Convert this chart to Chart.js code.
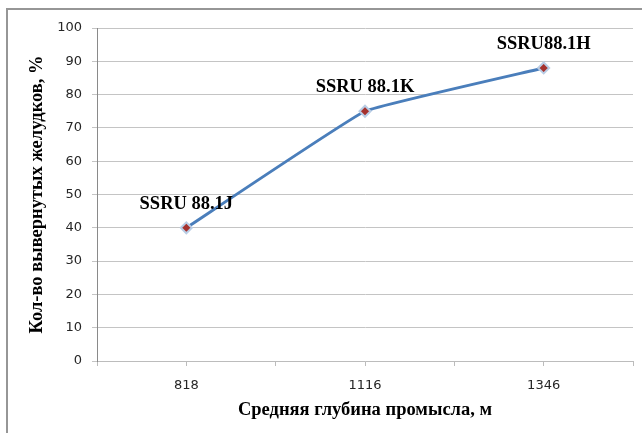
<!DOCTYPE html>
<html>
<head>
<meta charset="utf-8">
<script src="https://cdn.jsdelivr.net/npm/chart.js@4/dist/chart.umd.min.js"></script>
<style>
  html, body { margin: 0; padding: 0; background: #ffffff; }
  #wrap { position: relative; width: 642px; height: 433px; overflow: hidden; }
  #frame { position: absolute; left: 6px; top: 8px; width: 700px; height: 500px; border: 2px solid #969696; box-sizing: border-box; }
  #c { position: absolute; left: 0; top: 0; }
</style>
</head>
<body>
<div id="wrap">
  <div id="frame"></div>
  <canvas id="c" width="642" height="433"></canvas>
</div>
<script>
const categories = ['818', '1116', '1346'];
const values = [40, 75, 88];
const pointLabels = ['SSRU 88.1J', 'SSRU 88.1K', 'SSRU88.1H'];
const yTicks = [0, 10, 20, 30, 40, 50, 60, 70, 80, 90, 100];
const xTitle = 'Средняя глубина промысла, м';
const yTitle = 'Кол-во вывернутых желудков, %';

const labelPlugin = {
  id: 'pointLabels',
  afterDatasetsDraw(chart) {
    const ctx = chart.ctx;
    const meta = chart.getDatasetMeta(0);
    ctx.save();
    ctx.font = 'bold 18.5px "Liberation Serif", "Times New Roman", serif';
    ctx.fillStyle = '#000000';
    ctx.textAlign = 'center';
    ctx.textBaseline = 'middle';
    meta.data.forEach((pt, i) => {
      ctx.fillText(pointLabels[i], pt.x, pt.y - 24);
    });
    ctx.restore();
  }
};

new Chart(document.getElementById('c'), {
  type: 'line',
  data: {
    datasets: [{
      data: values.map((v, i) => ({ x: i, y: v })),
      borderColor: '#4a7ebb',
      borderWidth: 3,
      tension: 0.08,
      pointStyle: 'rectRot',
      pointRadius: 5.5,
      pointBackgroundColor: '#a5322e',
      pointBorderColor: '#b9cde5',
      pointBorderWidth: 2
    }]
  },
  options: {
    responsive: false,
    animation: false,
    layout: { padding: { left: 0, top: 28, right: 9, bottom: 0 } },
    plugins: { legend: { display: false }, tooltip: { enabled: false } },
    scales: {
      x: {
        type: 'linear',
        min: -0.5,
        max: 2.5,
        afterBuildTicks(scale) {
          scale.ticks = [-0.5, 0, 0.5, 1, 1.5, 2, 2.5].map(v => ({ value: v }));
        },
        afterFit(scale) { scale.height = 72; scale.paddingLeft = 0; scale.paddingRight = 0; },
        ticks: {
          autoSkip: false,
          maxRotation: 0,
          padding: 12,
          color: '#262626',
          font: { family: '"DejaVu Sans", Verdana, sans-serif', size: 13 },
          callback: (v) => Number.isInteger(v) ? categories[v] : ''
        },
        grid: { drawOnChartArea: false, drawTicks: true, tickLength: 5, color: '#bcbcbc' },
        border: { display: true, color: '#bcbcbc', width: 1 },
        title: {
          display: true,
          text: xTitle,
          color: '#000000',
          font: { family: '"Liberation Serif", "Times New Roman", serif', size: 18.5, weight: 'bold' },
          padding: { top: 0, bottom: 12 }
        }
      },
      y: {
        min: 0,
        max: 100,
        afterBuildTicks(scale) {
          scale.ticks = yTicks.map(v => ({ value: v }));
        },
        afterFit(scale) { scale.width = 97; },
        ticks: {
          padding: 10,
          color: '#262626',
          font: { family: '"DejaVu Sans", Verdana, sans-serif', size: 13 }
        },
        grid: { color: '#c4c4c4', tickLength: 5, lineWidth: 1 },
        border: { display: true, color: '#8a8a8a', width: 1 },
        title: {
          display: true,
          text: yTitle,
          color: '#000000',
          font: { family: '"Liberation Serif", "Times New Roman", serif', size: 18.5, weight: 'bold' },
          padding: { top: 26, bottom: 0 }
        }
      }
    }
  },
  plugins: [labelPlugin]
});
</script>
</body>
</html>
